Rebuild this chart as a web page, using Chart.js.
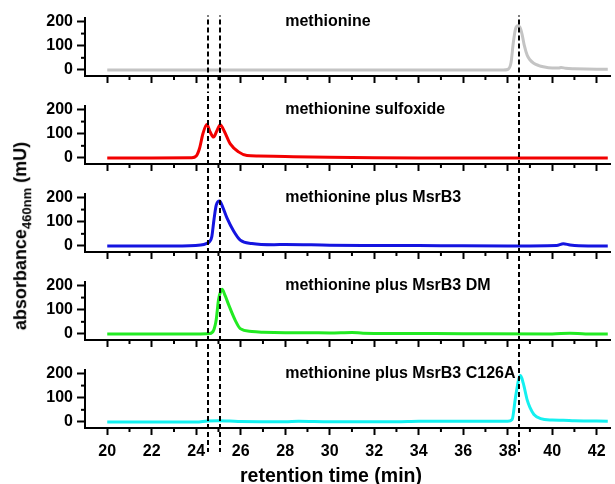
<!DOCTYPE html>
<html>
<head>
<meta charset="utf-8">
<script src="https://cdn.jsdelivr.net/npm/chart.js@4.4.1/dist/chart.umd.min.js"></script>
<style>
  body { margin: 0; background: #fff; width: 615px; height: 484px; overflow: hidden; position: relative;
         font-family: "Liberation Sans", Arial, sans-serif; }
  canvas { position: absolute; left: 0; }
  .title { position: absolute; font-weight: bold; color: #000; white-space: nowrap; }
  #xtitle { left: 331px; top: 475px; font-size: 19.5px; transform: translate(-50%, -50%); }
  #ytitle { left: 22px; top: 236px; font-size: 18px; transform: translate(-50%, -50%) rotate(-90deg); }
  #ytitle sub { font-size: 13px; }
</style>
</head>
<body>
<canvas id="p0" width="615" height="88" style="top:4px"></canvas>
<canvas id="p1" width="615" height="88" style="top:92px"></canvas>
<canvas id="p2" width="615" height="88" style="top:180px"></canvas>
<canvas id="p3" width="615" height="88" style="top:268px"></canvas>
<canvas id="p4" width="615" height="128" style="top:356px"></canvas>
<div class="title" id="xtitle">retention time (min)</div>
<div class="title" id="ytitle">absorbance<sub>460nm</sub> (mU)</div>
<script>
// panel names and trace colours, top to bottom
const panelNames = ['methionine', 'methionine sulfoxide', 'methionine plus MsrB3',
                    'methionine plus MsrB3 DM', 'methionine plus MsrB3 C126A'];
const panelColors = ['#c4c4c4', '#f20000', '#1414e0', '#22ea22', '#14f0f0'];

// retention time (min) / absorbance (mU)
const metX = [20, 25, 30, 35, 37.8, 38.0, 38.15, 38.25, 38.35, 38.45, 38.55, 38.65, 38.75, 38.88, 39.0, 39.17, 39.4, 39.6, 40.0, 40.3, 40.4, 40.6, 41.0, 42.0, 42.5];
const metY = [0, 0, 0, 0, 0, 2, 30, 110, 168, 182, 176, 146, 100, 60, 42, 28, 18, 13, 8, 8, 10, 7, 5, 3, 3];

const sulfX = [20, 22, 23.8, 24.0, 24.15, 24.3, 24.48, 24.62, 24.78, 24.92, 25.08, 25.25, 25.53, 25.9, 26.28, 26.8, 28, 30, 32, 34, 38, 42.5];
const sulfY = [0, 0, 1, 8, 40, 100, 138, 108, 86, 110, 137, 112, 58, 25, 10, 8, 6, 3, 1, 0, 0, 0];

const msrX = [20, 23, 24.2, 24.48, 24.6, 24.7, 24.8, 24.9, 25.05, 25.2, 25.38, 25.68, 25.98, 26.5, 27.5, 28, 30, 32, 35, 38, 40.2, 40.5, 40.8, 41.2, 42.5];
const msrY = [0, 0, 4, 11, 18, 38, 110, 168, 185, 158, 116, 62, 24, 10, 5, 6, 3, 2, 1, 0, 2, 9, 4, 1, 0];

const dmX = [20, 24, 24.6, 24.78, 24.9, 25.0, 25.1, 25.16, 25.3, 25.46, 25.76, 25.98, 26.5, 27, 28, 29, 30, 31, 31.5, 33, 36, 40, 40.8, 41.5, 42.5];
const dmY = [0, 0, 2, 15, 60, 140, 176, 184, 158, 120, 55, 22, 10, 7, 5, 5, 4, 6, 3, 2, 1, 0, 3, 0, 0];

const c126X = [20, 24, 24.5, 25.0, 25.5, 26, 28, 28.6, 30, 33, 34, 37, 38.0, 38.2, 38.35, 38.5, 38.58, 38.7, 38.88, 39.0, 39.18, 39.48, 40.0, 40.5, 41, 42.5];
const c126Y = [0, 0, 4, 5, 4, 2, 1, 3, 1, 1, 3, 3, 3, 10, 100, 178, 192, 160, 90, 60, 31, 14, 8, 7, 5, 3];

const traceX = [metX, sulfX, msrX, dmX, c126X];
const traceY = [metY, sulfY, msrY, dmY, c126Y];

// axes
const xTicks = [20, 21, 22, 23, 24, 25, 26, 27, 28, 29, 30, 31, 32, 33, 34, 35, 36, 37, 38, 39, 40, 41, 42];
const xTickLabels = [20, 22, 24, 26, 28, 30, 32, 34, 36, 38, 40, 42];
const yTicks = [0, 50, 100, 150, 200];
const yTickLabels = [0, 100, 200];

// dashed reference lines (min)
const markerTimes = [24.53, 25.07, 38.52];

const tickFont = { family: 'Liberation Sans', size: 16, weight: 'bold' };

const panelDecor = {
  id: 'panelDecor',
  afterDatasetsDraw(chart, args, opts) {
    const { ctx, chartArea: a, scales: { x, y } } = chart;
    ctx.save();
    // minor ticks
    ctx.strokeStyle = '#000';
    ctx.lineWidth = 2;
    xTicks.filter(v => !xTickLabels.includes(v)).forEach(v => {
      const p = x.getPixelForValue(v);
      ctx.beginPath(); ctx.moveTo(p, a.bottom); ctx.lineTo(p, a.bottom + 4); ctx.stroke();
    });
    yTicks.filter(v => !yTickLabels.includes(v)).forEach(v => {
      const p = y.getPixelForValue(v);
      ctx.beginPath(); ctx.moveTo(a.left, p); ctx.lineTo(a.left - 4, p); ctx.stroke();
    });
    // dashed lines running through all panels
    const top = opts.first ? a.top - 2 : 0;
    const bottom = opts.last ? a.bottom + 24 : chart.height;
    ctx.lineWidth = 2;
    ctx.setLineDash([5, 3]);
    ctx.lineDashOffset = chart.canvas.offsetTop % 8;
    markerTimes.forEach(t => {
      const p = Math.round(x.getPixelForValue(t));
      ctx.beginPath(); ctx.moveTo(p, top); ctx.lineTo(p, bottom); ctx.stroke();
    });
    ctx.setLineDash([]);
    // panel caption
    ctx.fillStyle = '#000';
    ctx.font = 'bold 16px "Liberation Sans", Arial, sans-serif';
    ctx.textAlign = 'left';
    ctx.textBaseline = 'middle';
    ctx.fillText(opts.name, x.getPixelForValue(28), y.getPixelForValue(200));
    ctx.restore();
  }
};

function makePanel(i) {
  const last = i === panelNames.length - 1;
  new Chart(document.getElementById('p' + i), {
    type: 'line',
    data: {
      datasets: [{
        data: traceX[i].map((v, k) => ({ x: v, y: traceY[i][k] })),
        borderColor: panelColors[i],
        borderWidth: 3,
        pointRadius: 0,
        cubicInterpolationMode: 'monotone',
        fill: false
      }]
    },
    options: {
      responsive: false,
      animation: false,
      devicePixelRatio: 1,
      layout: { padding: { top: 12, right: 5, left: 0, bottom: 0 } },
      plugins: {
        legend: { display: false },
        tooltip: { enabled: false },
        panelDecor: { name: panelNames[i], first: i === 0, last: last }
      },
      scales: {
        x: {
          type: 'linear',
          min: 19,
          max: 42.6,
          afterBuildTicks: s => { s.ticks = xTicks.map(v => ({ value: v })); },
          afterFit: s => { s.height = last ? 56 : 16; },
          ticks: {
            display: last,
            autoSkip: false,
            maxRotation: 0,
            padding: 7,
            color: '#000',
            font: tickFont,
            callback: v => xTickLabels.includes(v) ? String(v) : ''
          },
          grid: {
            drawOnChartArea: false,
            tickLength: 7,
            tickWidth: 2,
            tickColor: c => (c.tick && xTickLabels.includes(c.tick.value)) ? '#000' : 'rgba(0,0,0,0)'
          },
          border: { display: true, width: 2, color: '#000' }
        },
        y: {
          min: -25,
          max: 216,
          afterBuildTicks: s => { s.ticks = yTicks.map(v => ({ value: v })); },
          afterFit: s => { s.width = 85; },
          ticks: {
            padding: 4,
            color: '#000',
            font: tickFont,
            callback: v => yTickLabels.includes(v) ? String(v) : ''
          },
          grid: {
            drawOnChartArea: false,
            tickLength: 8,
            tickWidth: 2,
            tickColor: c => (c.tick && yTickLabels.includes(c.tick.value)) ? '#000' : 'rgba(0,0,0,0)'
          },
          border: { display: true, width: 2, color: '#000' }
        }
      }
    },
    plugins: [panelDecor]
  });
}

panelNames.forEach((n, i) => makePanel(i));
</script>
</body>
</html>
